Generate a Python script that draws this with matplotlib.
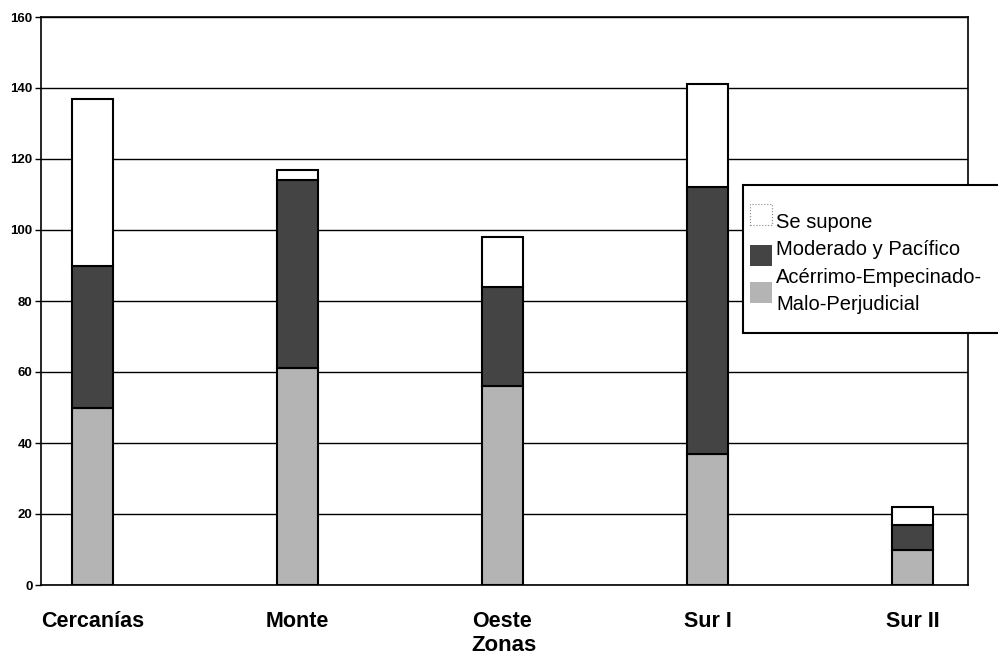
import matplotlib
matplotlib.use("Agg")
import matplotlib.pyplot as plt
from matplotlib.patches import Rectangle
import numpy as np

plt.rcParams['font.family'] = ['Liberation Sans', 'DejaVu Sans']

categories = ["Cercanías", "Monte", "Oeste", "Sur I", "Sur II"]
acerrimo = [50, 61, 56, 37, 10]
moderado = [40, 53, 28, 75, 7]
se_supone = [47, 3, 14, 29, 5]
yticks = [0, 20, 40, 60, 80, 100, 120, 140, 160]
legend_labels = ["Se supone", "Moderado y Pacífico", "Acérrimo-Empecinado-\nMalo-Perjudicial"]

c_light = "#b4b4b4"
c_dark = "#444444"

W, H = 998, 656
fig = plt.figure(figsize=(W / 100, H / 100), dpi=100)
ax = fig.add_axes([41 / W, 1 - 585 / H, (968 - 41) / W, (585 - 17) / H])

x = np.arange(len(categories))
w = 0.2
a = np.array(acerrimo)
m = np.array(moderado)
s = np.array(se_supone)
ax.bar(x, a, w, color=c_light, edgecolor="black", linewidth=1.5, zorder=3)
ax.bar(x, m, w, bottom=a, color=c_dark, edgecolor="black", linewidth=1.5, zorder=3)
ax.bar(x, s, w, bottom=a + m, color="white", edgecolor="black", linewidth=1.5, zorder=3)

ax.set_ylim(0, 160)
ax.set_xlim(-0.25, 4.27)
ax.set_yticks(yticks)
ax.set_yticklabels([str(v) for v in yticks], fontsize=9.5, fontweight="bold")
ax.set_xticks(x)
ax.set_xticklabels(categories, fontsize=15.5, fontweight="bold")
ax.tick_params(axis="x", length=0, pad=19)
ax.tick_params(axis="y", length=4, width=1, pad=2)
ax.yaxis.grid(True, color="black", linewidth=1.0, zorder=0)
ax.set_axisbelow(True)
for sp in ax.spines.values():
    sp.set_color("black")
    sp.set_linewidth(1.2)
ax.set_xlabel("Zonas", fontsize=16, fontweight="bold", labelpad=2)

# legend (drawn manually in figure pixel coordinates)
def fx(px):
    return px / W

def fy(py):
    return 1 - py / H

fig.patches.append(Rectangle((fx(743), fy(333)), (1010 - 743) / W, (333 - 185) / H,
                             transform=fig.transFigure, facecolor="white",
                             edgecolor="black", linewidth=1.5, zorder=5))
handle_specs = [
    (dict(facecolor="white", edgecolor="#888888", linestyle=":", linewidth=0.8), 204),
    (dict(facecolor=c_dark, edgecolor="none"), 245),
    (dict(facecolor=c_light, edgecolor="none"), 282),
]
for spec, top in handle_specs:
    fig.patches.append(Rectangle((fx(750), fy(top + 21)), 22 / W, 21 / H,
                                 transform=fig.transFigure, zorder=6, **spec))
baselines = [228, 255, 283]
line_gap = 27
for lab, base in zip(legend_labels, baselines):
    for i, line in enumerate(lab.split("\n")):
        fig.text(fx(776), fy(base + i * line_gap), line, fontsize=14.5,
                 va="baseline", ha="left", zorder=7)

fig.savefig("out.png", dpi=100)
